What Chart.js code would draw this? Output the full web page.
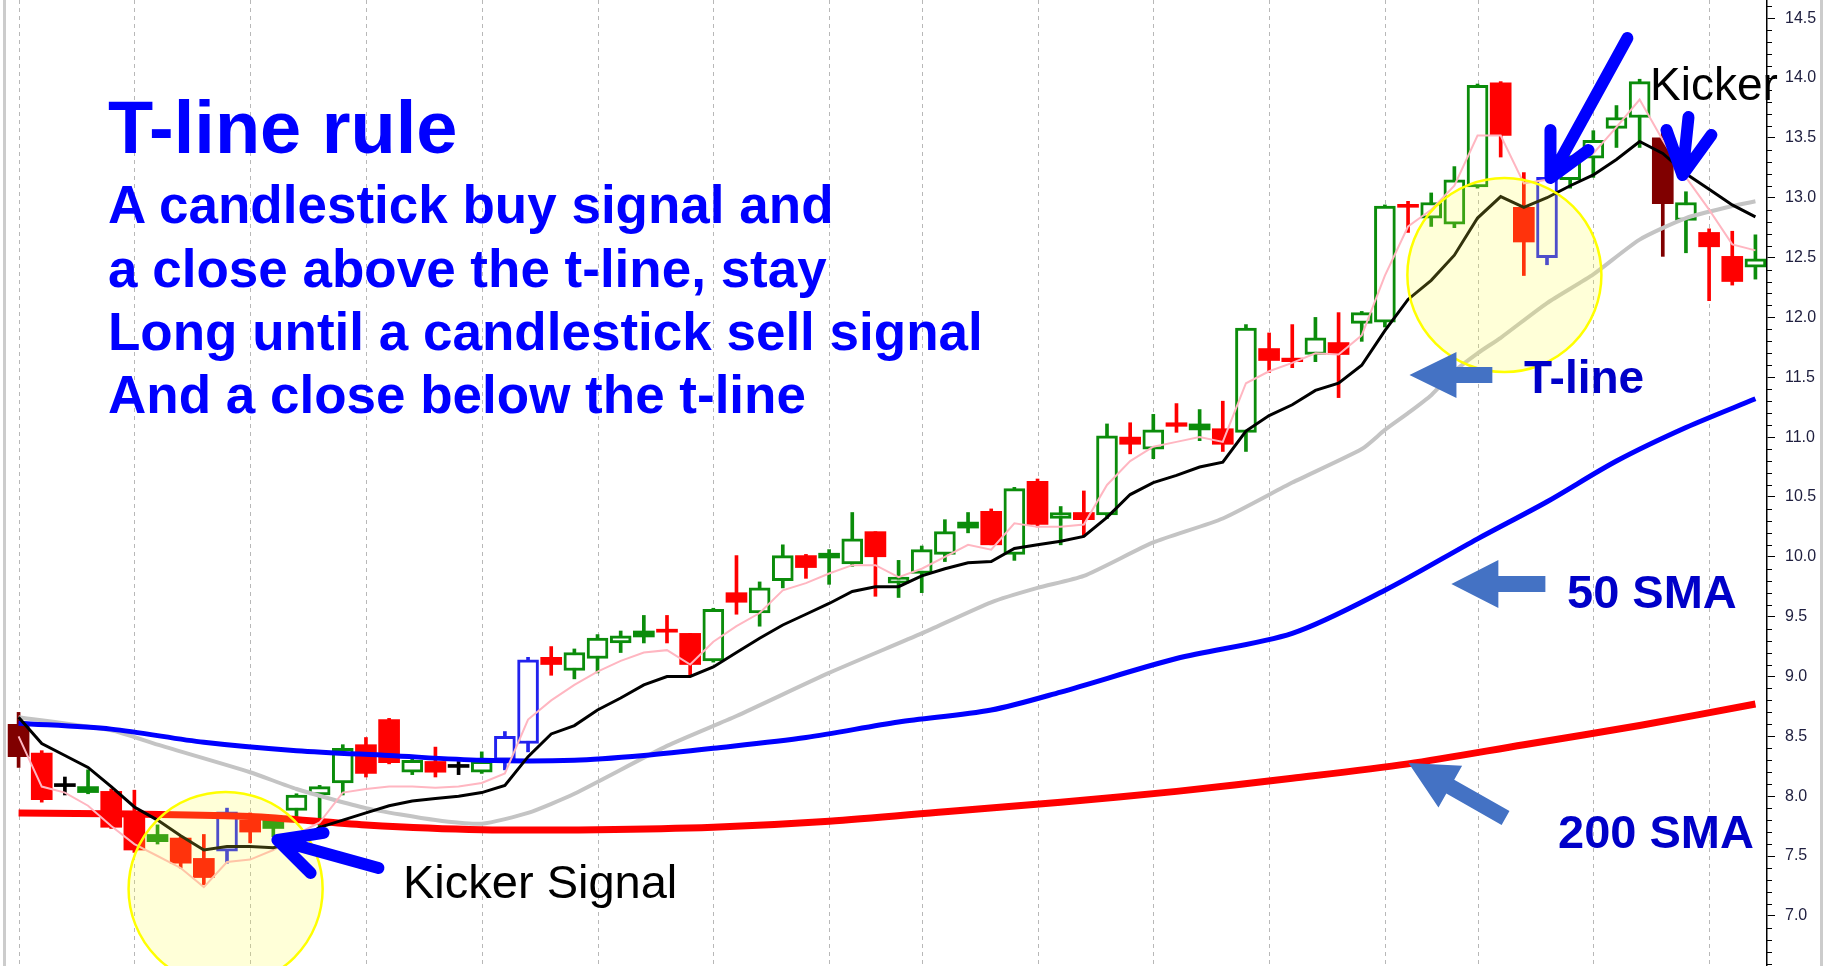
<!DOCTYPE html>
<html>
<head>
<meta charset="utf-8">
<script src="https://cdn.jsdelivr.net/npm/chart.js@4.4.1/dist/chart.umd.min.js"></script>
<style>
  html, body { margin: 0; padding: 0; background: #fff; }
  #wrap { position: relative; width: 1825px; height: 966px; overflow: hidden; }
  #myChart { position: absolute; left: 0; top: 0; }
  .note { position: absolute; white-space: nowrap; line-height: 1; font-family: "Liberation Sans", Arial, sans-serif; }
  .rule { color: #0000ff; font-weight: bold; }
  .tag { color: #0000c8; font-weight: bold; }
  .kick { color: #000; }
</style>
</head>
<body>
<div id="wrap">
  <canvas id="myChart" width="1825" height="966"></canvas>
  <div class="note rule" style="left:108px; top:91px; font-size:74px;">T-line rule</div>
  <div class="note rule" style="left:108px; top:178px; font-size:53px;">A candlestick buy signal and</div>
  <div class="note rule" style="left:108px; top:242px; font-size:53px;">a close above the t-line, stay</div>
  <div class="note rule" style="left:108px; top:305px; font-size:53px;">Long until a candlestick sell signal</div>
  <div class="note rule" style="left:108px; top:368px; font-size:53px;">And a close below the t-line</div>
  <div class="note tag" style="left:1524px; top:354px; font-size:46px;">T-line</div>
  <div class="note tag" style="left:1567px; top:568px; font-size:47px;">50 SMA</div>
  <div class="note tag" style="left:1558px; top:808px; font-size:47px;">200 SMA</div>
  <div class="note kick" style="left:403px; top:858px; font-size:47px;">Kicker Signal</div>
  <div class="note kick" style="left:1650px; top:61px; font-size:46px;">Kicker</div>
</div>
<script>
// daily candles
const opens  = [8.60,8.36,8.08,8.08,8.04,7.84,7.68,7.65,7.48,7.54, 7.80,7.80,7.88,8.01,8.11,8.43,8.64,8.20,8.29,8.24,
                8.20,8.30,8.44,9.16,9.05,9.15,9.28,9.38,9.39,9.36, 9.13,9.70,9.53,9.80,10.01,10.03,9.94,10.21,9.78,9.86,
                10.02,10.29,10.38,10.02,10.63,10.32,10.37,10.35,11.00,10.90, 11.12,11.11,11.07,11.04,11.74,11.66,11.69,11.79,11.95,11.96,
                12.94,12.83,12.78,13.09,13.96,12.92,12.50,13.15,13.33,13.58, 13.67,13.50,12.81,12.71,12.51,12.42];
const highs  = [8.70,8.38,8.16,8.22,8.06,8.05,7.76,7.66,7.68,7.90, 7.86,7.84,8.02,8.09,8.43,8.49,8.65,8.31,8.41,8.29,
                8.37,8.54,9.16,9.25,9.23,9.35,9.38,9.51,9.51,9.36, 9.57,10.01,9.79,10.10,10.02,10.06,10.37,10.21,9.97,10.09,
                10.31,10.37,10.40,10.58,10.65,10.42,10.55,11.11,11.12,11.19, 11.28,11.23,11.30,11.94,11.87,11.94,12.00,12.04,12.05,12.94,
                12.97,13.04,13.26,13.95,13.97,13.21,13.18,13.35,13.56,13.77, 13.99,13.55,13.05,12.74,12.72,12.69];
const lows   = [8.24,7.95,8.01,8.02,7.73,7.53,7.60,7.40,7.26,7.44, 7.61,7.66,7.83,7.74,8.01,8.16,8.27,8.18,8.16,8.18,
                8.19,8.22,8.37,9.01,8.98,9.03,9.20,9.28,9.28,9.00, 9.12,9.52,9.42,9.74,9.82,9.77,9.92,9.67,9.66,9.70,
                9.96,10.20,10.10,9.97,10.25,10.10,10.17,10.32,10.86,10.82, 11.04,10.97,10.88,10.88,11.54,11.58,11.63,11.33,11.80,11.92,
                12.71,12.76,12.75,13.08,13.34,12.35,12.44,13.08,13.17,13.42, 13.42,12.51,12.54,12.14,12.27,12.32];
const closes = [8.33,7.97,8.08,8.03,7.74,7.55,7.62,7.44,7.32,7.87, 7.70,7.73,8.01,8.08,8.40,8.19,8.28,8.30,8.20,8.24,
                8.29,8.50,9.14,9.10,9.20,9.32,9.34,9.33,9.37,9.10, 9.56,9.62,9.74,10.01,9.91,9.99,10.15,10.00,9.83,10.06,
                10.21,10.24,10.10,10.57,10.27,10.37,10.31,11.01,10.94,11.06, 11.09,11.06,10.94,11.91,11.64,11.63,11.83,11.69,12.04,12.93,
                12.92,12.96,13.15,13.94,13.52,12.63,13.17,13.30,13.48,13.67, 13.97,12.95,12.96,12.59,12.30,12.49];

// t-line (black) and the fast pink average, one value per candle
const tLine = [8.66,8.44,8.34,8.24,8.08,7.91,7.80,7.67,7.55,7.58, 7.58,7.57,7.62,7.74,7.80,7.86,7.92,7.96,7.98,8.00,
               8.03,8.09,8.33,8.52,8.59,8.72,8.82,8.93,9.00,9.00, 9.08,9.20,9.32,9.43,9.52,9.61,9.71,9.75,9.75,9.84,
               9.90,9.95,9.96,10.07,10.10,10.13,10.17,10.33,10.52,10.62, 10.68,10.75,10.79,11.05,11.18,11.27,11.39,11.45,11.60,11.89,
               12.15,12.31,12.52,12.83,13.01,12.92,13.00,13.10,13.19,13.32, 13.47,13.37,13.20,13.07,12.94,12.84];
const fastLine = [8.50,8.08,8.03,7.92,7.75,7.60,7.50,7.40,7.24,7.45, 7.47,7.55,7.68,7.78,8.03,8.06,8.08,8.08,8.07,8.08,
                  8.11,8.19,8.64,8.80,8.93,9.04,9.13,9.20,9.22,9.10, 9.29,9.42,9.53,9.72,9.78,9.86,9.93,9.93,9.83,9.90,
                  10.00,10.10,10.06,10.28,10.25,10.25,10.27,10.60,10.80,10.92, 10.96,11.00,10.96,11.45,11.55,11.62,11.70,11.69,11.85,12.35,
                  12.76,12.90,13.10,13.52,13.52,13.12,13.15,13.27,13.37,13.59, 13.82,13.48,13.17,12.90,12.61,12.56];

// slower averages, read at a few candles only
const sma20At = [0,4,6,10,12,15,18,20,22,24,28,31,35,39,42,44,46,49,52,55,58,59,60,61,62,63,64,66,68,70,72,74,75];
const sma20   = [8.66,8.55,8.43,8.20,8.06,7.90,7.80,7.77,7.86,8.02,8.42,8.67,9.03,9.36,9.62,9.74,9.84,10.12,10.32,10.62,10.90,11.06,11.20,11.35,11.55,11.70,11.83,12.12,12.36,12.65,12.83,12.93,12.97];
const sma50At = [0,4,8,12,16,20,24,27,30,34,38,42,45,50,55,59,63,66,69,72,75];
const sma50   = [8.61,8.56,8.45,8.38,8.34,8.30,8.30,8.34,8.40,8.49,8.62,8.72,8.87,9.15,9.36,9.72,10.15,10.46,10.80,11.08,11.32];
const sma200At = [0,5,10,15,20,25,30,35,40,45,50,55,60,65,70,75];
const sma200   = [7.86,7.85,7.83,7.76,7.72,7.72,7.74,7.79,7.87,7.95,8.04,8.15,8.27,8.43,8.59,8.77];

// candle tones: g green, r red, b blue (signal), m maroon, k black doji
const candleTone = 'mrkgrrgrrb' + 'rggggrrgrk' + 'gbbrggggrr' + 'grggrggrgg' + 'ggrgrgrgrg' +
                   'rgrgrrgrgg' + 'rgggrrbggg' + 'gmgrrg';
const toneColor = { g: '#0b8c0b', r: '#ff0000', b: '#2222ee', m: '#800000', k: '#000000' };

const labels = opens.map((o, i) => String(i + 1));
// candles where the dashed week lines fall
const gridAt = [0,5,10,15,20,25,30,35,39,44,49,54,59,63,68,73];

function sparse(at, vals) {
  return at.map((i, k) => ({ x: labels[i], y: vals[k] }));
}
function toneOf(i) { return toneColor[candleTone[i]]; }
function hollow(i) { return closes[i] > opens[i]; }

// annotation shapes, in candle index / price units
const circles = [{ i: 8.94, v: 7.225 }, { i: 64.16, v: 12.354 }];
const circleR = 4.19; // in candles
const strokeArrows = [
  { tail: [15.54, 7.40], tip: [11.18, 7.634], barbs: [[13.17, 7.693], [12.61, 7.358]] },
  { tail: [69.47, 14.334], tip: [66.15, 13.165], barbs: [[66.15, 13.566], [67.79, 13.398]] },
  { tail: [72.11, 13.674], tip: [71.85, 13.19], barbs: [[71.16, 13.566], [73.10, 13.524]] }
];
const blockArrows = [
  { tip: [60.06, 11.519], tail: [63.64, 11.519], head: 47, hw: 23, sw: 8 },
  { tip: [61.87, 9.773], tail: [65.93, 9.773], head: 47, hw: 24, sw: 8 },
  { tip: [60.02, 8.277], tail: [64.21, 7.818], head: 48, hw: 24, sw: 8 }
];

const annot = {
  id: 'annot',
  beforeDatasetsDraw(chart) {
    // dashed week separators
    const ctx = chart.ctx, x = chart.scales.x, area = chart.chartArea;
    ctx.save();
    ctx.strokeStyle = '#b8b8b8';
    ctx.lineWidth = 1;
    ctx.setLineDash([4, 4]);
    gridAt.forEach(i => {
      const px = Math.round(x.getPixelForValue(i)) + 0.5;
      ctx.beginPath();
      ctx.moveTo(px, area.top);
      ctx.lineTo(px, area.bottom);
      ctx.stroke();
    });
    ctx.restore();
  },
  afterDatasetsDraw(chart) {
    const ctx = chart.ctx;
    const x = chart.scales.x, y = chart.scales.y;
    const P = p => [x.getPixelForValue(p[0]), y.getPixelForValue(p[1])];
    ctx.save();
    // yellow circles
    circles.forEach(c => {
      const cx = x.getPixelForValue(c.i), cy = y.getPixelForValue(c.v);
      const r = x.getPixelForValue(c.i + circleR) - cx;
      ctx.beginPath();
      ctx.arc(cx, cy, r, 0, Math.PI * 2);
      ctx.fillStyle = 'rgba(255,255,60,0.2)';
      ctx.fill();
      ctx.lineWidth = 2.5;
      ctx.strokeStyle = '#ffff00';
      ctx.stroke();
    });
    // steel blue block arrows
    ctx.fillStyle = '#4472c4';
    blockArrows.forEach(a => {
      const t = P(a.tip), s = P(a.tail);
      const dx = t[0] - s[0], dy = t[1] - s[1];
      const len = Math.hypot(dx, dy);
      const ux = dx / len, uy = dy / len, nx = -uy, ny = ux;
      const bx = t[0] - ux * a.head, by = t[1] - uy * a.head;
      ctx.beginPath();
      ctx.moveTo(s[0] + nx * a.sw, s[1] + ny * a.sw);
      ctx.lineTo(bx + nx * a.sw, by + ny * a.sw);
      ctx.lineTo(bx + nx * a.hw, by + ny * a.hw);
      ctx.lineTo(t[0], t[1]);
      ctx.lineTo(bx - nx * a.hw, by - ny * a.hw);
      ctx.lineTo(bx - nx * a.sw, by - ny * a.sw);
      ctx.lineTo(s[0] - nx * a.sw, s[1] - ny * a.sw);
      ctx.closePath();
      ctx.fill();
    });
    // dark blue hand drawn arrows
    ctx.strokeStyle = '#0000ff';
    ctx.lineWidth = 12;
    ctx.lineCap = 'round';
    ctx.lineJoin = 'round';
    strokeArrows.forEach(a => {
      const t = P(a.tip), s = P(a.tail), b1 = P(a.barbs[0]), b2 = P(a.barbs[1]);
      ctx.beginPath();
      ctx.moveTo(s[0], s[1]);
      ctx.lineTo(t[0], t[1]);
      ctx.moveTo(b1[0], b1[1]);
      ctx.lineTo(t[0], t[1]);
      ctx.lineTo(b2[0], b2[1]);
      ctx.stroke();
    });
    ctx.restore();
  },
  afterDraw(chart) {
    const ctx = chart.ctx;
    const y = chart.scales.y;
    const right = chart.chartArea.right;
    ctx.save();
    // minor ticks every 0.1
    ctx.strokeStyle = '#000';
    ctx.lineWidth = 1;
    for (let k = 66; k <= 146; k++) {
      if (k % 5 === 0) continue;
      const py = Math.round(y.getPixelForValue(k / 10)) + 0.5;
      ctx.beginPath();
      ctx.moveTo(right, py);
      ctx.lineTo(right + 5, py);
      ctx.stroke();
    }
    // frame edges
    ctx.fillStyle = '#cccccc';
    ctx.fillRect(3, 0, 3, chart.height);
    ctx.fillRect(1820, 0, 3, chart.height);
    ctx.restore();
  }
};

var canvas = document.getElementById('myChart');

var myChart = new Chart(canvas, {
  type: 'bar',
  data: {
    labels: labels,
    datasets: [
      {
        type: 'line', label: 'T-line', data: tLine,
        borderColor: '#000000', borderWidth: 3, pointRadius: 0, tension: 0, order: 0
      },
      {
        type: 'line', label: 'fast', data: fastLine,
        borderColor: '#ffb6c1', borderWidth: 2, pointRadius: 0, tension: 0, order: 1
      },
      {
        type: 'line', label: '50 SMA', data: sparse(sma50At, sma50),
        borderColor: '#0000ff', borderWidth: 5, pointRadius: 0, tension: 0.3, order: 2
      },
      {
        type: 'line', label: '200 SMA', data: sparse(sma200At, sma200),
        borderColor: '#ff0000', borderWidth: 7, pointRadius: 0, tension: 0.3, order: 3
      },
      {
        type: 'line', label: '20 SMA', data: sparse(sma20At, sma20),
        borderColor: '#c4c4c4', borderWidth: 4, pointRadius: 0, tension: 0.2, order: 4
      },
      {
        label: 'body', data: opens.map((o, i) => [o, closes[i]]),
        backgroundColor: ctx => hollow(ctx.dataIndex) ? '#ffffff' : toneOf(ctx.dataIndex),
        borderColor: ctx => toneOf(ctx.dataIndex),
        borderWidth: ctx => hollow(ctx.dataIndex) ? 3 : 0,
        borderSkipped: false,
        barThickness: 21, minBarLength: 3, grouped: false, order: 5
      },
      {
        label: 'wick', data: lows.map((l, i) => [l, highs[i]]),
        backgroundColor: ctx => toneOf(ctx.dataIndex),
        borderWidth: 0, barThickness: 3, grouped: false, order: 6
      }
    ]
  },
  options: {
    responsive: false,
    animation: false,
    devicePixelRatio: 1,
    layout: { padding: { left: 7, right: 0, top: 0, bottom: 0 } },
    plugins: { legend: { display: false }, tooltip: { enabled: false } },
    scales: {
      x: {
        offset: true,
        ticks: { display: false, autoSkip: false },
        border: { display: false },
        grid: { display: false, drawTicks: false },
        afterFit: s => { s.height = 0; s.paddingLeft = 0; s.paddingRight = 0; }
      },
      y: {
        position: 'right',
        min: 6.581, max: 14.652,
        ticks: {
          stepSize: 0.5, includeBounds: false, padding: 10,
          color: '#202040',
          font: { family: '"Liberation Sans", Arial', size: 16 },
          callback: v => Number(v).toFixed(1)
        },
        border: { display: true, color: '#000', width: 1.5 },
        grid: { drawOnChartArea: false, drawTicks: true, tickLength: 8, color: '#000' },
        afterFit: s => { s.width = 58; s.paddingTop = 0; s.paddingBottom = 0; }
      }
    }
  },
  plugins: [annot]
});
</script>
</body>
</html>
